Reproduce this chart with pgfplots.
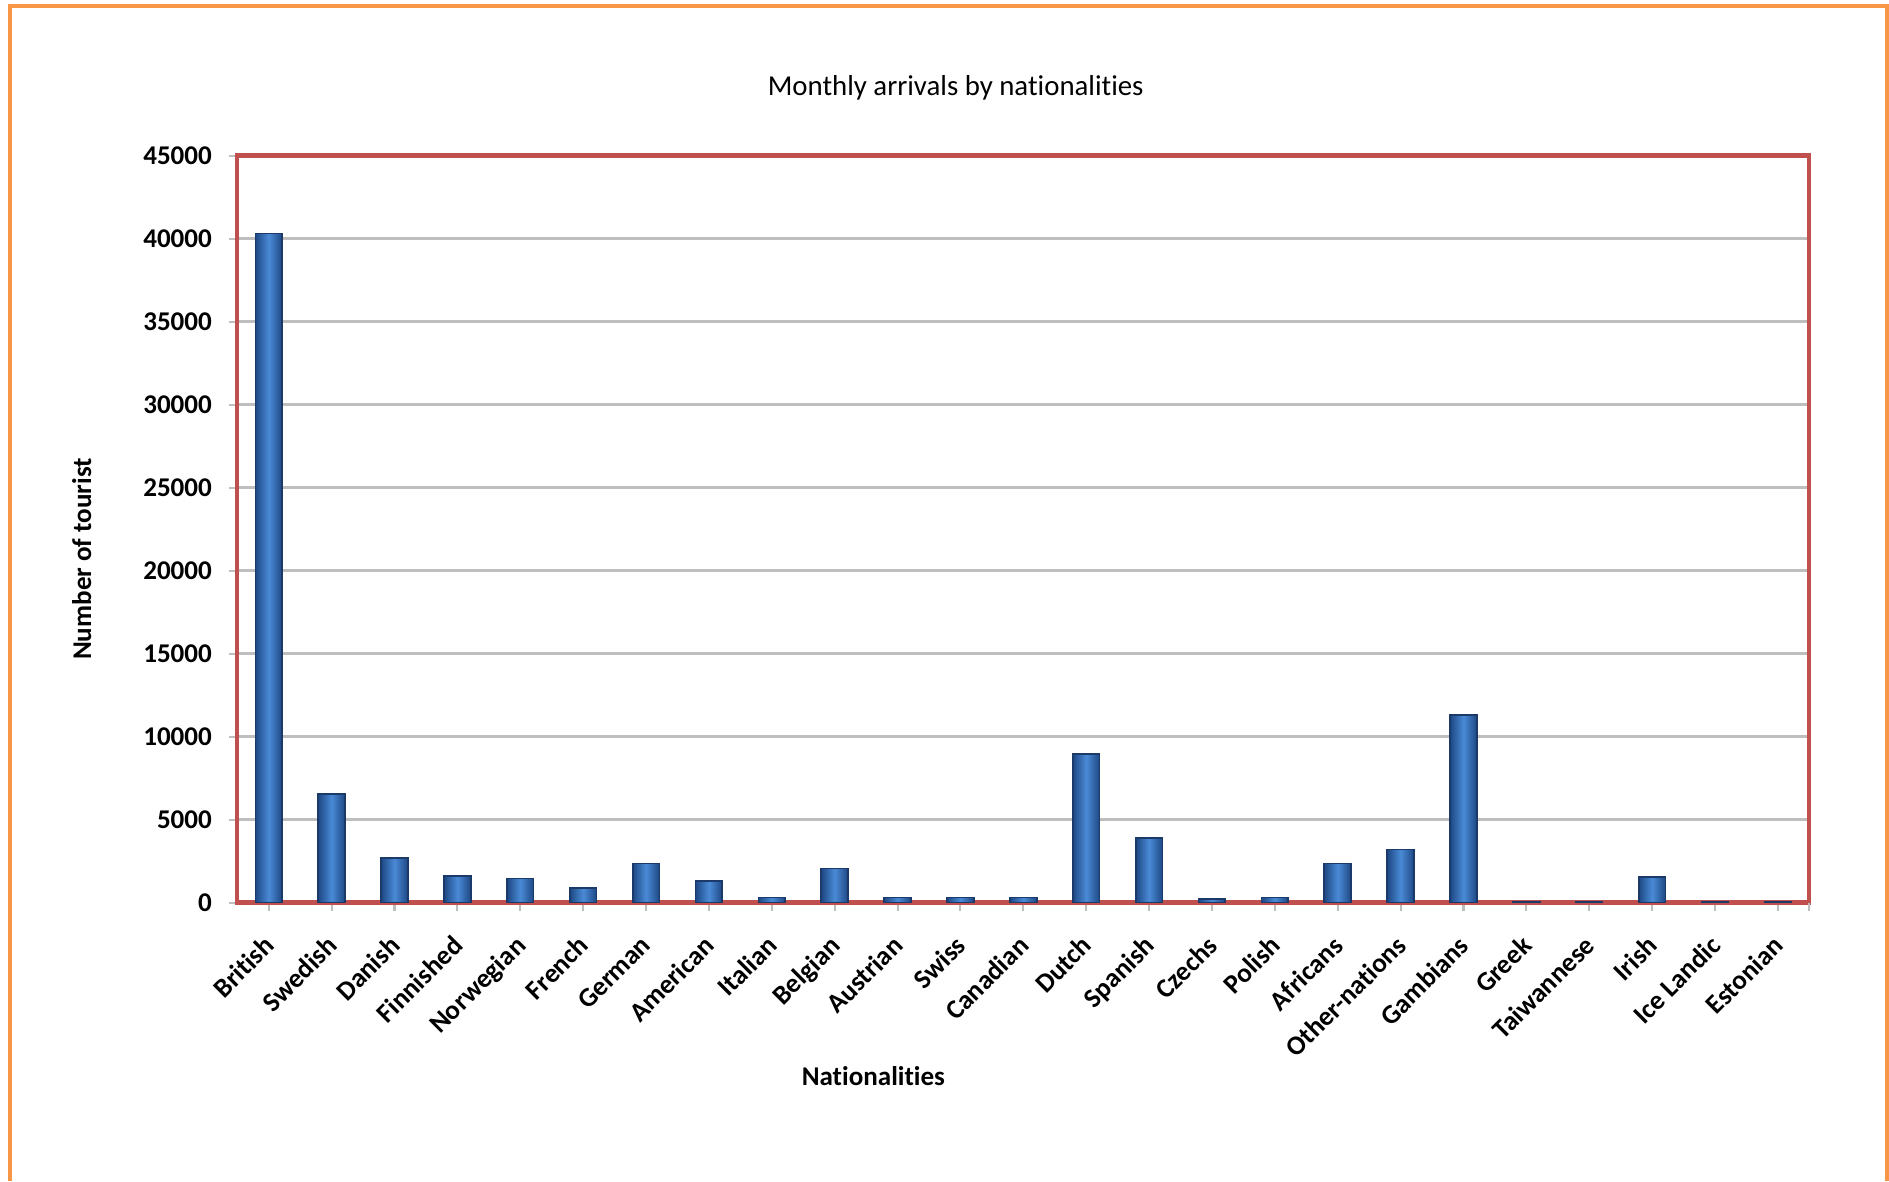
\documentclass[border=0pt]{standalone}
\usepackage{fontspec}
\setmainfont{Carlito}[Ligatures=NoCommon]
\usepackage{pgfplots}
\pgfplotsset{compat=1.18}
\definecolor{framecol}{RGB}{247,150,70}
\definecolor{axred}{RGB}{192,80,77}
\definecolor{gridgray}{RGB}{190,190,190}
\definecolor{bardark}{RGB}{30,72,132}
\definecolor{barmid}{RGB}{74,138,214}
\definecolor{barline}{RGB}{28,58,105}
\newcommand{\lblfont}{\fontsize{7.7}{9}\selectfont\bfseries}
\pgfplotsset{mybar/.style={ybar, bar shift=0pt, bar width=0.267cm, draw=barline, line width=0.5pt,
  left color=bardark, right color=bardark, middle color=barmid}}
\begin{document}
\begin{tikzpicture}
\fill[white] (0,0) rectangle (18.89cm,11.81cm);
\path[use as bounding box] (0,0) rectangle (18.89cm,11.81cm);
\draw[framecol, line width=0.04cm] (0.10cm,0) -- (0.10cm,11.75cm) -- (18.87cm,11.75cm) -- (18.87cm,0);
\begin{axis}[
  at={(2.373cm,2.784cm)}, anchor=south west,
  scale only axis, width=15.72cm, height=7.47cm,
  xmin=-0.5, xmax=24.5, ymin=0, ymax=45000,
  ytick={0,5000,...,45000},
  xtick={0,...,24},
  xticklabels={British,Swedish,Danish,Finnished,Norwegian,French,German,American,Italian,Belgian,Austrian,Swiss,Canadian,Dutch,Spanish,Czechs,Polish,Africans,Other-nations,Gambians,Greek,Taiwannese,Irish,Ice Landic,Estonian},
  extra x ticks={24.5}, extra x tick labels={},
  extra x tick style={grid=none},
  ymajorgrids, grid style={gridgray, line width=0.7pt},
  axis line style={axred, line width=1.2pt},
  tick style={gridgray, line width=0.6pt},
  tick align=outside, major tick length=0.08cm,
  xtick pos=left, ytick pos=left,
  /pgf/number format/assume math mode=true,
  /pgf/number format/1000 sep={},
  scaled y ticks=false,
  yticklabel style={font=\lblfont, xshift=-0.05cm},
  xticklabel style={rotate=45, anchor=north east, font=\lblfont, inner sep=1pt, yshift=-0.08cm, xshift=-0.17cm},
  title={Monthly arrivals by nationalities},
  title style={at={(axis description cs:0.457,1.063)}, anchor=center, yshift=0pt, font=\fontsize{8.2}{10}\selectfont},
  xlabel={Nationalities},
  xlabel style={at={(axis description cs:0.4046,-0.2319)}, anchor=center, font=\lblfont},
  ylabel={Number of tourist},
  ylabel style={at={(axis description cs:-0.0989,0.46)}, anchor=center, font=\lblfont},
]
\addplot[mybar] coordinates {(0,40300)};
\addplot[mybar] coordinates {(1,6550)};
\addplot[mybar] coordinates {(2,2700)};
\addplot[mybar] coordinates {(3,1600)};
\addplot[mybar] coordinates {(4,1450)};
\addplot[mybar] coordinates {(5,900)};
\addplot[mybar] coordinates {(6,2350)};
\addplot[mybar] coordinates {(7,1300)};
\addplot[mybar] coordinates {(8,300)};
\addplot[mybar] coordinates {(9,2050)};
\addplot[mybar] coordinates {(10,300)};
\addplot[mybar] coordinates {(11,300)};
\addplot[mybar] coordinates {(12,300)};
\addplot[mybar] coordinates {(13,8950)};
\addplot[mybar] coordinates {(14,3900)};
\addplot[mybar] coordinates {(15,200)};
\addplot[mybar] coordinates {(16,300)};
\addplot[mybar] coordinates {(17,2350)};
\addplot[mybar] coordinates {(18,3200)};
\addplot[mybar] coordinates {(19,11300)};
\addplot[mybar] coordinates {(20,60)};
\addplot[mybar] coordinates {(21,60)};
\addplot[mybar] coordinates {(22,1550)};
\addplot[mybar] coordinates {(23,60)};
\addplot[mybar] coordinates {(24,60)};
\end{axis}
\end{tikzpicture}
\end{document}
